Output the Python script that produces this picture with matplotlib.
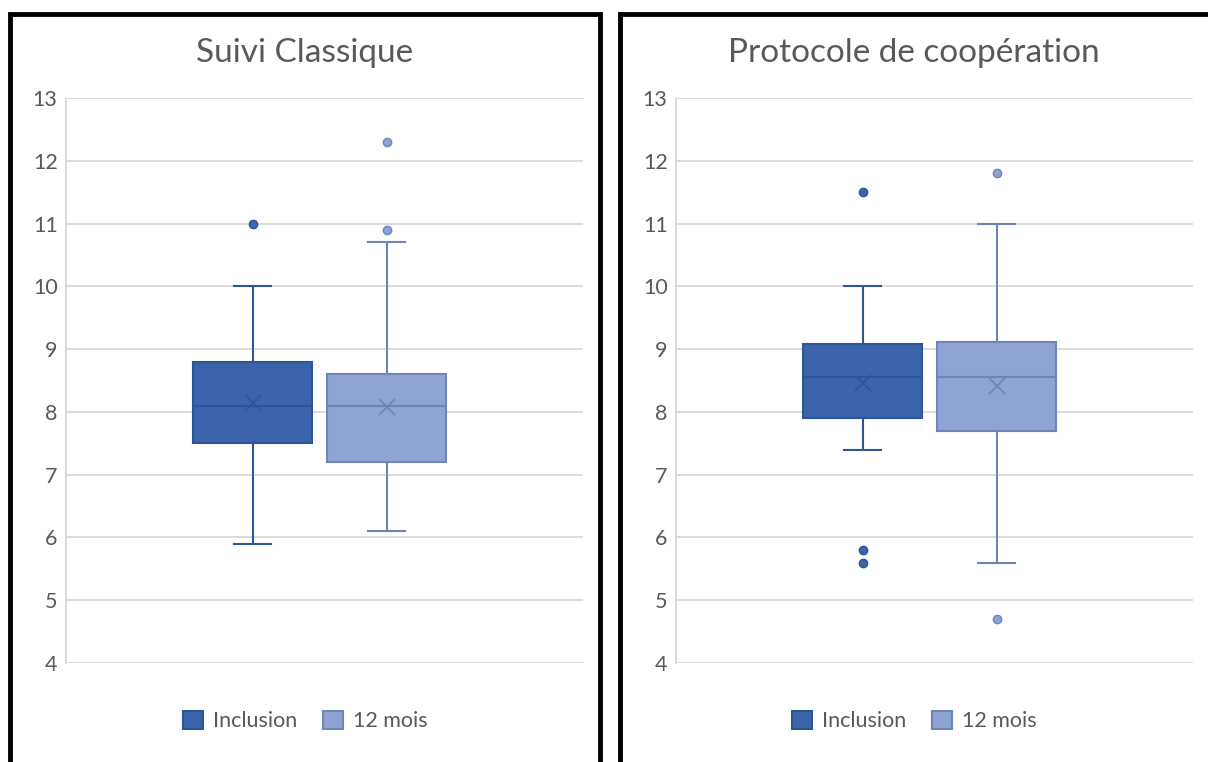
import matplotlib.pyplot as plt
from matplotlib.patches import Rectangle, Patch

plt.rcParams['font.family'] = ['Lato', 'DejaVu Sans']

titles = ['Suivi Classique', 'Protocole de coopération']
series = ['Inclusion', '12 mois']

# [Inclusion, 12 mois] per panel
q1 = [[7.5, 7.2], [7.9, 7.7]]
med = [[8.1, 8.1], [8.55, 8.55]]
q3 = [[8.8, 8.6], [9.08, 9.12]]
mean = [[8.14, 8.08], [8.46, 8.42]]
whislo = [[5.9, 6.1], [7.4, 5.6]]
whishi = [[10.0, 10.7], [10.0, 11.0]]
fliers = [[[11.0], [10.9, 12.3]], [[11.5, 5.8, 5.6], [11.8, 4.7]]]

fills = ['#3B64AD', '#8FA4D4']
edges = ['#2F5597', '#6F84B8']
txt = '#595959'

W, H = 1208, 762
fig = plt.figure(figsize=(W / 100, H / 100), dpi=100)

# black frames around each panel
for x0, x1 in [(10, 600), (620, 1212)]:
    fig.patches.append(Rectangle((x0 / W, -0.05), (x1 - x0) / W, (H - 14) / H + 0.05,
                                 transform=fig.transFigure, fill=False,
                                 edgecolor='black', lw=3.5, zorder=0))

ax_left = [66, 676]
ax_w = 517
for p in range(2):
    ax = fig.add_axes([ax_left[p] / W, (H - 663) / H, ax_w / W, 565 / H])
    for s in range(2):
        st = dict(med=med[p][s], q1=q1[p][s], q3=q3[p][s], mean=mean[p][s],
                  whislo=whislo[p][s], whishi=whishi[p][s], fliers=fliers[p][s])
        ax.bxp([st], positions=[[0.361, 0.620][s]], widths=0.230, capwidths=0.072,
               showmeans=True, patch_artist=True,
               boxprops=dict(facecolor=fills[s], edgecolor=edges[s], lw=1.5),
               medianprops=dict(color=edges[s], lw=1.5),
               whiskerprops=dict(color=edges[s], lw=1.5),
               capprops=dict(color=edges[s], lw=1.5),
               meanprops=dict(marker='x', markersize=11, markeredgecolor=edges[s],
                              markeredgewidth=1.2),
               flierprops=dict(marker='o', markersize=6, markerfacecolor=fills[s],
                               markeredgecolor=edges[s], markeredgewidth=1))
    ax.set_xlim(0, 1)
    ax.set_ylim(4, 13)
    ax.set_yticks(range(4, 14))
    ax.set_xticks([])
    ax.grid(axis='y', color='#D9D9D9', lw=1.3)
    ax.set_axisbelow(True)
    for sp in ['top', 'right', 'bottom']:
        ax.spines[sp].set_visible(False)
    ax.spines['left'].set_color('#D9D9D9')
    ax.spines['left'].set_linewidth(1.3)
    ax.tick_params(axis='y', length=0, pad=6, labelsize=15.5, labelcolor=txt)

    cx = [305, 914][p]
    fig.text(cx / W, 1 - 53 / H, titles[p], ha='center', va='center',
             fontsize=24, color=txt)
    handles = [Patch(facecolor=fills[s], edgecolor=edges[s], lw=1.5, label=series[s])
               for s in range(2)]
    fig.legend(handles=handles, loc='center', bbox_to_anchor=(cx / W, 1 - 721 / H),
               ncol=2, frameon=False, fontsize=15.5, labelcolor=txt,
               handlelength=0.95, handleheight=0.95, handletextpad=0.45, columnspacing=1.2)

fig.savefig('out.png', dpi=100)
